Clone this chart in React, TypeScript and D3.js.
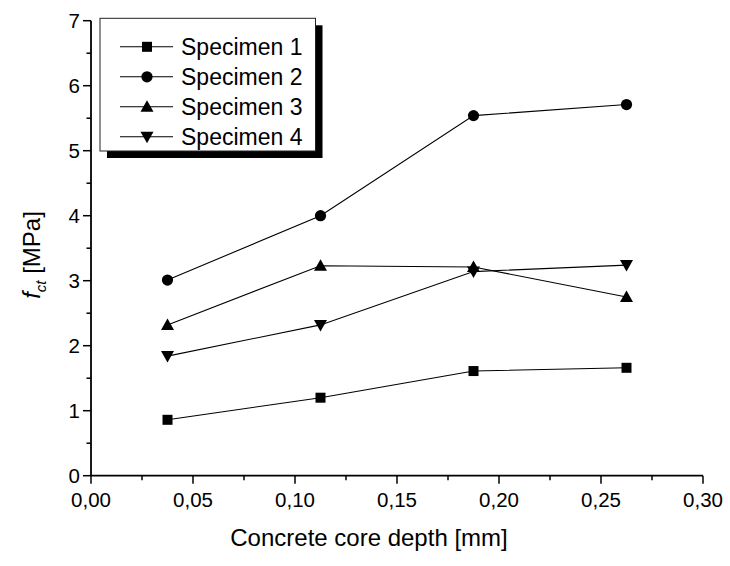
import React from "react";
import * as d3 from "d3";

const depths = [0.0375, 0.1125, 0.1875, 0.2625];
const seriesNames = ["Specimen 1", "Specimen 2", "Specimen 3", "Specimen 4"];
const specimen1 = [0.86, 1.2, 1.61, 1.66];
const specimen2 = [3.01, 4.0, 5.54, 5.71];
const specimen3 = [2.32, 3.23, 3.21, 2.75];
const specimen4 = [1.84, 2.32, 3.14, 3.24];
const seriesValues = [specimen1, specimen2, specimen3, specimen4];
const markerTypes = ["square", "circle", "up", "down"];
const xTicks = [0, 0.05, 0.1, 0.15, 0.2, 0.25, 0.3];
const xMinorTicks = [0.025, 0.075, 0.125, 0.175, 0.225, 0.275];
const yTicks = [0, 1, 2, 3, 4, 5, 6, 7];
const yMinorTicks = [0.5, 1.5, 2.5, 3.5, 4.5, 5.5, 6.5];

const W = 730;
const H = 566;
const left = 91;
const right = 703;
const top = 20.7;
const bottom = 475.7;
const FONT = "Arial, 'Liberation Sans', Helvetica, sans-serif";

function Marker({ type, x, y }: { type: string; x: number; y: number }) {
  if (type === "square") return <rect x={x - 5} y={y - 5} width={10} height={10} fill="#000" />;
  if (type === "circle") return <circle cx={x} cy={y} r={5.6} fill="#000" />;
  if (type === "up")
    return <path d={`M${x},${y - 6.5}L${x + 6.5},${y + 5}L${x - 6.5},${y + 5}Z`} fill="#000" />;
  return <path d={`M${x},${y + 6.5}L${x + 6.5},${y - 5}L${x - 6.5},${y - 5}Z`} fill="#000" />;
}

export default function App() {
  const x = d3.scaleLinear().domain([0, 0.3]).range([left, right]);
  const y = d3.scaleLinear().domain([0, 7]).range([bottom, top]);
  const line = d3
    .line<number>()
    .x((_, i) => x(depths[i]))
    .y((d) => y(d));
  const fmt = (v: number) => v.toFixed(2).replace(".", ",");

  const lgLeft = 100;
  const lgTop = 18.3;
  const lgW = 215.5;
  const lgH = 132.7;

  return (
    <svg width={W} height={H} style={{ position: "absolute", left: 0, top: 0, background: "#fff" }}>
      <rect x={0} y={0} width={W} height={H} fill="#fff" />
      {/* axes */}
      <line x1={left} x2={left} y1={top} y2={bottom} stroke="#000" strokeWidth={1.8} />
      <line x1={left} x2={right} y1={bottom} y2={bottom} stroke="#000" strokeWidth={1.8} />
      {xTicks.map((t) => (
        <g key={"xt" + t}>
          <line x1={x(t)} x2={x(t)} y1={bottom} y2={bottom + 8} stroke="#000" strokeWidth={1.5} />
          <text x={x(t)} y={507} textAnchor="middle" fontFamily={FONT} fontSize={20.5} fill="#000">
            {fmt(t)}
          </text>
        </g>
      ))}
      {xMinorTicks.map((t) => (
        <line key={"xm" + t} x1={x(t)} x2={x(t)} y1={bottom} y2={bottom + 4.5} stroke="#000" strokeWidth={1.5} />
      ))}
      {yTicks.map((t) => (
        <g key={"yt" + t}>
          <line x1={left - 8} x2={left} y1={y(t)} y2={y(t)} stroke="#000" strokeWidth={1.5} />
          <text x={80} y={y(t) + 7.5} textAnchor="end" fontFamily={FONT} fontSize={20.5} fill="#000">
            {t}
          </text>
        </g>
      ))}
      {yMinorTicks.map((t) => (
        <line key={"ym" + t} x1={left - 4.5} x2={left} y1={y(t)} y2={y(t)} stroke="#000" strokeWidth={1.5} />
      ))}
      {/* axis titles */}
      <text x={(left + right) / 2 - 28} y={546} textAnchor="middle" fontFamily={FONT} fontSize={24} fill="#000">
        Concrete core depth [mm]
      </text>
      <text
        transform={`translate(40,255) rotate(-90)`}
        textAnchor="middle"
        fontFamily={FONT}
        fontSize={24}
        fill="#000"
      >
        <tspan fontStyle="italic">f</tspan>
        <tspan fontStyle="italic" fontSize={15} dy={6}>ct</tspan>
        <tspan dy={-6}> [MPa]</tspan>
      </text>
      {/* series */}
      {seriesValues.map((vals, si) => (
        <g key={"s" + si}>
          <path d={line(vals) || ""} fill="none" stroke="#000" strokeWidth={1.1} />
          {vals.map((v, i) => (
            <Marker key={i} type={markerTypes[si]} x={x(depths[i])} y={y(v)} />
          ))}
        </g>
      ))}
      {/* legend */}
      <rect x={lgLeft + 7} y={lgTop + 7} width={lgW} height={lgH} fill="#000" />
      <rect x={lgLeft} y={lgTop} width={lgW} height={lgH} fill="#fff" stroke="#222" strokeWidth={1} />
      {seriesNames.map((name, i) => {
        const cy = lgTop + 28.5 + i * 30;
        return (
          <g key={"lg" + i}>
            <line x1={120} x2={173} y1={cy} y2={cy} stroke="#000" strokeWidth={1.1} />
            <Marker type={markerTypes[i]} x={147} y={cy} />
            <text x={181} y={cy + 8} fontFamily={FONT} fontSize={23} fill="#000">
              {name}
            </text>
          </g>
        );
      })}
    </svg>
  );
}
